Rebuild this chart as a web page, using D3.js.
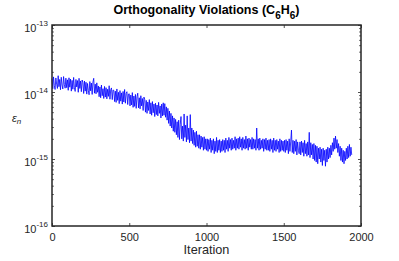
<!DOCTYPE html>
<meta charset="utf-8">
<script src="https://d3js.org/d3.v7.min.js"></script>
<style>
  body { margin: 0; background: #fff; }
  text { font-family: "Liberation Sans", Arial, sans-serif; fill: #262626; }
</style>
<div id="chart"></div>
<script>
// iteration step between samples
var step = 5;
// orthogonality violation eps_n, in units of 1e-15, one value every 5 iterations (0..1940)
var epsVals = [
  15.9, 11.2, 16.8, 12.4, 10.9, 16.2, 13.1, 11.3, 17.5, 12.0, 15.4, 10.8, 16.6, 12.7, 11.1, 17.0, 12.9, 11.4, 16.1, 11.6,
  15.2, 10.6, 16.3, 11.8, 15.6, 10.3, 14.9, 11.0, 16.5, 11.6, 10.2, 15.4, 11.9, 14.8, 9.9, 16.0, 11.3, 14.6, 10.1, 15.1,
  13.8, 9.5, 14.6, 10.3, 14.0, 9.3, 13.4, 10.6, 9.1, 14.3, 10.4, 13.6, 9.2, 14.1, 16.0, 9.6, 13.1, 9.4, 13.7, 9.9,
  12.3, 8.5, 11.9, 8.2, 12.7, 8.8, 11.2, 8.0, 12.1, 8.4, 11.6, 7.9, 11.0, 8.6, 12.4, 7.8, 10.8, 11.5, 7.7, 10.7,
  10.6, 7.2, 10.3, 7.0, 11.1, 7.5, 9.9, 6.7, 10.5, 7.3, 9.7, 6.6, 10.2, 7.1, 10.9, 6.8, 9.5, 10.1, 6.5, 9.3,
  9.4, 6.2, 9.0, 6.4, 9.8, 5.9, 8.7, 6.1, 9.2, 5.7, 8.5, 9.6, 5.8, 8.2, 5.6, 8.8, 6.2, 8.0, 5.3, 8.4,
  7.8, 5.0, 7.5, 4.8, 7.1, 5.3, 7.7, 4.7, 6.9, 4.5, 7.2, 4.9, 6.6, 4.3, 6.8, 4.6, 6.4, 4.4, 7.0, 4.8,
  6.2, 4.1, 6.6, 4.4, 6.9, 4.5, 6.7, 4.2, 6.0, 3.8, 5.7, 3.4, 5.2, 3.1, 4.8, 2.9, 4.4, 2.6, 4.1, 2.5,
  3.9, 2.3, 3.6, 2.1, 3.8, 1.95, 3.3, 4.3, 2.0, 3.1, 1.85, 4.7, 2.1, 3.2, 1.8, 4.4, 1.95, 2.9, 1.75, 4.6,
  1.85, 2.9, 1.7, 2.7, 1.6, 2.5, 1.5, 2.6, 1.55, 2.3, 1.45, 2.3, 1.4, 2.2, 1.5, 2.1, 1.35, 2.15, 1.4, 2.0,
  1.35, 2.0, 1.3, 1.95, 1.4, 2.05, 1.25, 1.9, 1.35, 2.0, 1.2, 1.85, 1.3, 2.1, 1.25, 1.9, 1.35, 1.95, 1.25, 1.85,
  1.3, 1.95, 1.35, 1.9, 1.25, 2.05, 1.4, 1.9, 1.3, 2.1, 1.45, 1.95, 1.35, 2.05, 1.4, 1.9, 1.45, 2.15, 1.35, 2.0,
  1.45, 2.05, 1.4, 2.15, 1.5, 2.0, 1.35, 2.1, 1.45, 1.95, 1.4, 2.2, 1.45, 2.0, 1.35, 2.05, 1.5, 1.95, 1.4, 2.1,
  1.4, 2.0, 1.45, 1.95, 1.35, 2.9, 1.45, 2.0, 1.35, 2.05, 1.4, 1.9, 1.45, 2.0, 1.3, 1.95, 1.4, 2.05, 1.35, 1.9,
  1.35, 1.95, 1.3, 2.0, 1.4, 1.9, 1.25, 2.05, 1.35, 1.9, 1.3, 1.95, 1.4, 1.85, 1.25, 2.0, 1.3, 1.9, 1.35, 1.85,
  1.3, 1.9, 1.25, 1.95, 1.35, 1.85, 1.2, 2.0, 1.3, 1.8, 2.7, 1.25, 1.9, 1.2, 1.85, 1.3, 1.95, 1.15, 1.8, 1.35,
  1.2, 1.8, 1.15, 1.85, 1.25, 1.75, 1.1, 1.9, 1.2, 1.7, 1.1, 1.8, 1.15, 2.5, 1.05, 1.75, 1.15, 1.65, 1.0, 1.7,
  0.95, 1.6, 0.9, 1.55, 0.85, 1.45, 1.0, 1.5, 0.9, 1.4, 0.8, 1.45, 0.95, 1.35, 0.78, 1.4, 0.9, 1.5, 1.0, 1.45,
  1.05, 1.6, 1.15, 1.75, 1.3, 2.05, 1.4, 2.2, 1.45, 1.95, 1.25, 1.7, 1.1, 1.55, 0.95, 1.45, 0.9, 1.35, 0.85, 1.3,
  0.95, 1.45, 1.0, 1.55, 1.05, 1.65, 1.1, 1.5, 1.15
];
var xTicks = [0, 500, 1000, 1500, 2000];
var yExponents = [-16, -15, -14, -13];

var width = 399, height = 261;
var margin = {top: 25, right: 38, bottom: 35, left: 52};

var svg = d3.select("#chart").append("svg")
    .attr("width", width)
    .attr("height", height);

var x = d3.scaleLinear()
    .domain([0, 2000])
    .range([margin.left, width - margin.right]);

var y = d3.scaleLog()
    .domain([1e-16, 1e-13])
    .range([height - margin.bottom, margin.top]);

var majors = yExponents.map(function(e) { return Math.pow(10, e); });
var minors = y.ticks().filter(function(v) {
  return majors.every(function(m) { return Math.abs(v - m) / m > 1e-6; });
});

// data line
var data = epsVals.map(function(v, i) { return {it: i * step, v: v * 1e-15}; });
svg.append("path")
    .datum(data)
    .attr("fill", "none")
    .attr("stroke", "#0000ff")
    .attr("stroke-width", 0.8)
    .attr("d", d3.line()
        .x(function(d) { return x(d.it); })
        .y(function(d) { return y(d.v); }));

// axes (ticks inside, box on)
function styleAxis(g) {
  g.select(".domain").remove();
  g.selectAll(".tick line").attr("stroke", "#262626").attr("stroke-width", 0.8);
}

svg.append("g")
    .attr("transform", "translate(0," + (height - margin.bottom) + ")")
    .call(d3.axisBottom(x).tickValues(xTicks).tickFormat(d3.format("d"))
        .tickSizeInner(-3).tickSizeOuter(0).tickPadding(7))
    .call(styleAxis)
    .selectAll("text").attr("font-size", 11).attr("fill", "#262626");

svg.append("g")
    .attr("transform", "translate(0," + margin.top + ")")
    .call(d3.axisTop(x).tickValues(xTicks).tickSizeInner(-3).tickSizeOuter(0).tickFormat(""))
    .call(styleAxis);

// y major ticks with labels 10^n
var yAxisG = svg.append("g")
    .attr("transform", "translate(" + margin.left + ",0)")
    .call(d3.axisLeft(y).tickValues(majors).tickSizeInner(-3).tickSizeOuter(0).tickFormat(""))
    .call(styleAxis);

yAxisG.selectAll(".tick").each(function(d) {
  var t = d3.select(this).append("text")
      .attr("x", -4)
      .attr("y", 6)
      .attr("text-anchor", "end")
      .attr("font-size", 11)
      .attr("fill", "#262626");
  t.append("tspan").text("10");
  t.append("tspan")
      .attr("dy", -6)
      .attr("font-size", 8)
      .text(String(Math.round(Math.log10(d))));
});

svg.append("g")
    .attr("transform", "translate(" + margin.left + ",0)")
    .call(d3.axisLeft(y).tickValues(minors).tickSizeInner(-1.8).tickSizeOuter(0).tickFormat(""))
    .call(styleAxis);

svg.append("g")
    .attr("transform", "translate(" + (width - margin.right) + ",0)")
    .call(d3.axisRight(y).tickValues(majors).tickSizeInner(-3).tickSizeOuter(0).tickFormat(""))
    .call(styleAxis);

svg.append("g")
    .attr("transform", "translate(" + (width - margin.right) + ",0)")
    .call(d3.axisRight(y).tickValues(minors).tickSizeInner(-1.8).tickSizeOuter(0).tickFormat(""))
    .call(styleAxis);

// box
svg.append("rect")
    .attr("x", margin.left)
    .attr("y", margin.top)
    .attr("width", width - margin.left - margin.right)
    .attr("height", height - margin.top - margin.bottom)
    .attr("fill", "none")
    .attr("stroke", "#262626")
    .attr("stroke-width", 1.5);

// title
var title = svg.append("text")
    .attr("x", (margin.left + width - margin.right) / 2)
    .attr("y", 14)
    .attr("text-anchor", "middle")
    .attr("font-size", 12.5)
    .attr("font-weight", "bold")
    .style("fill", "#000");
title.append("tspan").text("Orthogonality Violations (C");
title.append("tspan").attr("dy", 5).attr("font-size", 10).text("6");
title.append("tspan").attr("dy", -5).text("H");
title.append("tspan").attr("dy", 5).attr("font-size", 10).text("6");
title.append("tspan").attr("dy", -5).text(")");

// x label
svg.append("text")
    .attr("x", (margin.left + width - margin.right) / 2)
    .attr("y", 254)
    .attr("text-anchor", "middle")
    .attr("font-size", 12.7)
    .text("Iteration");

// y label
var yl = svg.append("text")
    .attr("x", 12)
    .attr("y", 122)
    .attr("font-family", "DejaVu Serif, serif")
    .attr("font-style", "italic")
    .attr("font-size", 11)
    .style("fill", "#262626");
yl.append("tspan").text("ε");
yl.append("tspan").attr("dy", 1.5).attr("font-size", 8).text("n");
</script>
